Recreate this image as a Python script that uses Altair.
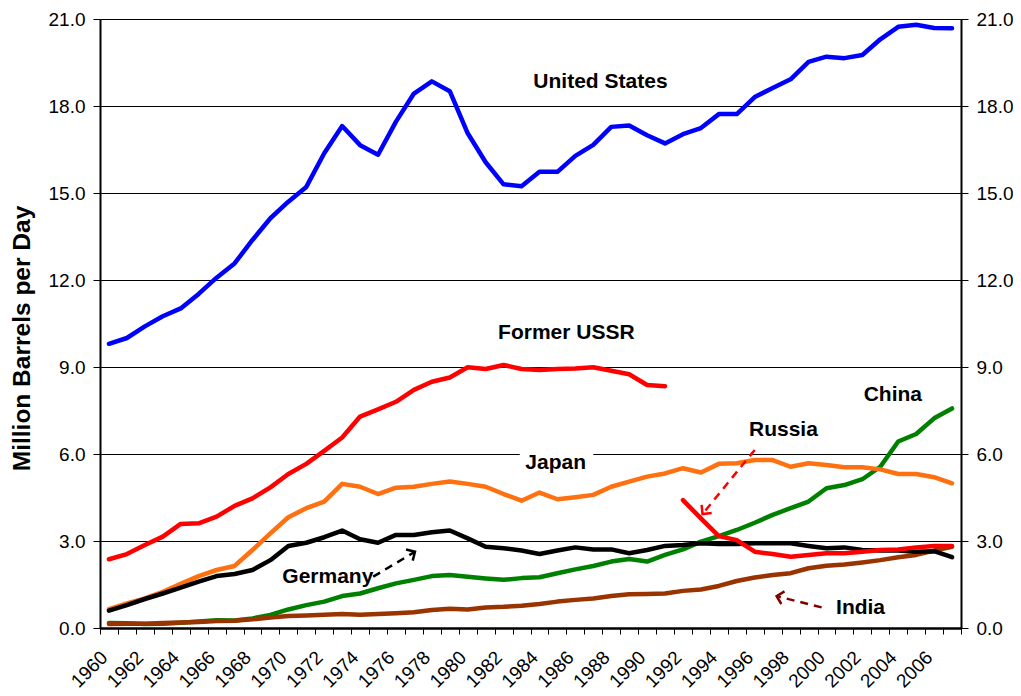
import math
import altair as alt
import pandas as pd

# ---------------- data ----------------
years = list(range(1960, 2008))
ussr_years = list(range(1960, 1992))
russia_years = list(range(1992, 2008))

united_states = [9.80, 10.00, 10.40, 10.75, 11.02, 11.52, 12.08, 12.57, 13.38, 14.13,
                 14.70, 15.21, 16.37, 17.31, 16.65, 16.32, 17.46, 18.43, 18.85, 18.51,
                 17.06, 16.06, 15.30, 15.23, 15.73, 15.73, 16.28, 16.66, 17.28, 17.33,
                 16.99, 16.71, 17.03, 17.24, 17.72, 17.72, 18.31, 18.62, 18.92, 19.52,
                 19.70, 19.65, 19.76, 20.30, 20.73, 20.80, 20.69, 20.68]
former_ussr = [2.37, 2.55, 2.86, 3.15, 3.59, 3.61, 3.84, 4.21, 4.47, 4.85,
               5.31, 5.66, 6.11, 6.57, 7.29, 7.54, 7.80, 8.21, 8.49, 8.64,
               8.99, 8.93, 9.07, 8.93, 8.90, 8.93, 8.95, 8.99, 8.87, 8.75,
               8.38, 8.34]
russia = [4.41, 3.78, 3.17, 3.03, 2.63, 2.55, 2.46, 2.52, 2.58, 2.58,
          2.63, 2.69, 2.71, 2.78, 2.83, 2.83]
japan = [0.65, 0.85, 1.02, 1.25, 1.52, 1.79, 2.00, 2.14, 2.69, 3.26,
         3.82, 4.13, 4.36, 4.97, 4.87, 4.62, 4.84, 4.87, 4.97, 5.05,
         4.97, 4.87, 4.62, 4.39, 4.67, 4.44, 4.51, 4.59, 4.87, 5.05,
         5.22, 5.33, 5.51, 5.36, 5.66, 5.68, 5.79, 5.79, 5.56, 5.68,
         5.62, 5.54, 5.54, 5.47, 5.31, 5.31, 5.20, 4.99]
germany = [0.60, 0.79, 1.00, 1.19, 1.39, 1.60, 1.79, 1.86, 2.00, 2.34,
           2.83, 2.94, 3.13, 3.36, 3.06, 2.94, 3.21, 3.21, 3.30, 3.36,
           3.09, 2.80, 2.75, 2.67, 2.55, 2.67, 2.78, 2.71, 2.71, 2.58,
           2.69, 2.83, 2.86, 2.92, 2.90, 2.90, 2.92, 2.92, 2.92, 2.83,
           2.75, 2.78, 2.69, 2.67, 2.67, 2.63, 2.65, 2.44]
china = [0.17, 0.16, 0.14, 0.15, 0.18, 0.22, 0.27, 0.26, 0.33, 0.45,
         0.64, 0.79, 0.91, 1.10, 1.19, 1.37, 1.54, 1.66, 1.79, 1.83,
         1.77, 1.71, 1.66, 1.72, 1.75, 1.89, 2.02, 2.14, 2.29, 2.38,
         2.29, 2.52, 2.71, 2.98, 3.17, 3.38, 3.63, 3.90, 4.13, 4.36,
         4.82, 4.93, 5.13, 5.56, 6.43, 6.69, 7.23, 7.57]
india = [0.14, 0.15, 0.15, 0.17, 0.19, 0.21, 0.24, 0.25, 0.30, 0.36,
         0.41, 0.43, 0.46, 0.48, 0.46, 0.48, 0.51, 0.54, 0.62, 0.66,
         0.64, 0.71, 0.73, 0.77, 0.83, 0.91, 0.97, 1.02, 1.10, 1.16,
         1.17, 1.19, 1.28, 1.33, 1.45, 1.62, 1.74, 1.83, 1.89, 2.06,
         2.15, 2.19, 2.26, 2.34, 2.44, 2.52, 2.67, 2.80]

series_names = ["China", "India", "Japan", "Germany", "Russia", "Former USSR", "United States"]
series_colors = ["#008000", "#993300", "#FF7010", "#000000", "#FF0000", "#FF0000", "#0000FF"]

y_ticks = [0, 3, 6, 9, 12, 15, 18, 21]
x_label_years = list(range(1960, 2007, 2))
x_tick_positions = [1959.5 + i for i in range(49)]

# series labels (data coordinates)
label_text = ["United States", "Former USSR", "Japan", "Germany", "Russia", "China", "India"]
label_year = [1987.4, 1985.5, 1984.9, 1972.2, 1997.6, 2003.7, 2001.9]
label_value = [18.83, 10.17, 5.69, 1.76, 6.83, 8.03, 0.69]

# arrows (data coordinates)
arrow_x1 = [1974.73, 1996.0, 1999.73]
arrow_y1 = [1.77, 6.14, 0.71]
arrow_x2 = [1977.06, 1993.09, 1997.22]
arrow_y2 = [2.63, 3.93, 1.10]
arrow_color = ["#000000", "#FF0000", "#800000"]

# ---------------- build tables ----------------
W, H = 861, 609
rows = []
for name, ys, vals in [("China", years, china), ("India", years, india),
                       ("Japan", years, japan), ("Germany", years, germany),
                       ("Russia", russia_years, russia),
                       ("Former USSR", ussr_years, former_ussr),
                       ("United States", years, united_states)]:
    for yr, v in zip(ys, vals):
        rows.append({"series": name, "year": yr, "value": v})
df = pd.DataFrame(rows)

labels_df = pd.DataFrame({"text": label_text, "year": label_year, "value": label_value})

ppx = W / 48.0
ppy = H / 21.0
angles = [math.degrees(math.atan2(-(b2 - b1) * ppy, (a2 - a1) * ppx)) % 360
          for a1, b1, a2, b2 in zip(arrow_x1, arrow_y1, arrow_x2, arrow_y2)]
arrows_df = pd.DataFrame({"x1": arrow_x1, "y1": arrow_y1, "x2": arrow_x2,
                          "y2": arrow_y2, "color": arrow_color, "angle": angles})

box_df = pd.DataFrame({"x1": [1982.9], "x2": [1987.0], "y1": [5.8], "y2": [6.2]})

FONT = "Liberation Sans"
xscale = alt.Scale(domain=[1959.5, 2007.5], nice=False, zero=False)
yscale = alt.Scale(domain=[0, 21], nice=False, zero=False)

x_label_axis = alt.Axis(values=x_label_years, format="d", labelAngle=315,
                        labelAlign="right", labelBaseline="middle",
                        labelFont=FONT, labelFontSize=19, labelColor="#000000",
                        labelPadding=26, labelOffset=-5, ticks=False, tickSize=0, grid=False,
                        domain=True, domainColor="#000000", domainWidth=2,
                        title=None, orient="bottom", labelOverlap=False)
x_tick_axis = alt.Axis(values=x_tick_positions, labels=False, ticks=True,
                       tickSize=6, tickColor="#000000", tickWidth=1, grid=False,
                       domain=True, domainColor="#000000", domainWidth=2,
                       title=None, orient="bottom")
y_left_axis = alt.Axis(values=y_ticks, format=".1f", orient="left",
                       labelFont=FONT, labelFontSize=19, labelColor="#000000",
                       labelPadding=8, tickSize=7, tickColor="#000000", tickWidth=1,
                       domainColor="#000000", domainWidth=2,
                       grid=True, gridColor="#000000", gridWidth=1, gridOpacity=1,
                       title="Million Barrels per Day", titleFont=FONT,
                       titleFontSize=24.5, titleFontWeight="bold", titleColor="#000000",
                       titleX=-78, titleY=319, titleAngle=270, titleBaseline="middle",
                       titleAlign="center")
y_right_axis = alt.Axis(values=y_ticks, format=".1f", orient="right",
                        labelFont=FONT, labelFontSize=19, labelColor="#000000",
                        labelPadding=8, tickSize=7, tickColor="#000000", tickWidth=1,
                        domainColor="#000000", domainWidth=2, grid=False, title=None)

box = alt.Chart(box_df).mark_rect(color="#FFFFFF").encode(
    x=alt.X("x1:Q", scale=xscale, axis=None), x2="x2:Q",
    y=alt.Y("y1:Q", scale=yscale, axis=None), y2="y2:Q")

lines = alt.Chart(df).mark_line(strokeWidth=4.5, strokeJoin="round", strokeCap="round").encode(
    x=alt.X("year:Q", scale=xscale, axis=x_label_axis),
    y=alt.Y("value:Q", scale=yscale, axis=y_left_axis),
    color=alt.Color("series:N", scale=alt.Scale(domain=series_names, range=series_colors),
                    legend=None),
    detail="series:N")

right = alt.Chart(df).mark_line(opacity=0).encode(
    x=alt.X("year:Q", scale=xscale, axis=x_tick_axis),
    y=alt.Y("value:Q", scale=yscale, axis=y_right_axis),
    detail="series:N")

texts = alt.Chart(labels_df).mark_text(font=FONT, fontSize=21, fontWeight="bold",
                                       color="#000000", align="center",
                                       baseline="middle").encode(
    x=alt.X("year:Q", scale=xscale, axis=None),
    y=alt.Y("value:Q", scale=yscale, axis=None),
    text="text:N")

dashes = alt.Chart(arrows_df).mark_rule(strokeDash=[8, 6], strokeWidth=2.5).encode(
    x=alt.X("x1:Q", scale=xscale, axis=None), x2="x2:Q",
    y=alt.Y("y1:Q", scale=yscale, axis=None), y2="y2:Q",
    color=alt.Color("color:N", scale=None))

heads = alt.Chart(arrows_df).mark_point(shape="M-1,-1L0,0L-1,1", filled=False, size=170,
                                         strokeWidth=2.5, opacity=1).encode(
    x=alt.X("x2:Q", scale=xscale, axis=None),
    y=alt.Y("y2:Q", scale=yscale, axis=None),
    angle=alt.Angle("angle:Q", scale=None),
    color=alt.Color("color:N", scale=None))

chart = alt.layer(box, lines, right, texts, dashes, heads).resolve_axis(
    x="independent", y="independent"
).properties(
    width=W, height=H,
    autosize=alt.AutoSizeParams(type="none"),
    padding={"left": 92, "top": 11, "right": 52, "bottom": 67},
    background="#FFFFFF",
).configure_view(strokeWidth=0)

chart.save("out.html", embed_options={"renderer": "svg", "actions": False})
